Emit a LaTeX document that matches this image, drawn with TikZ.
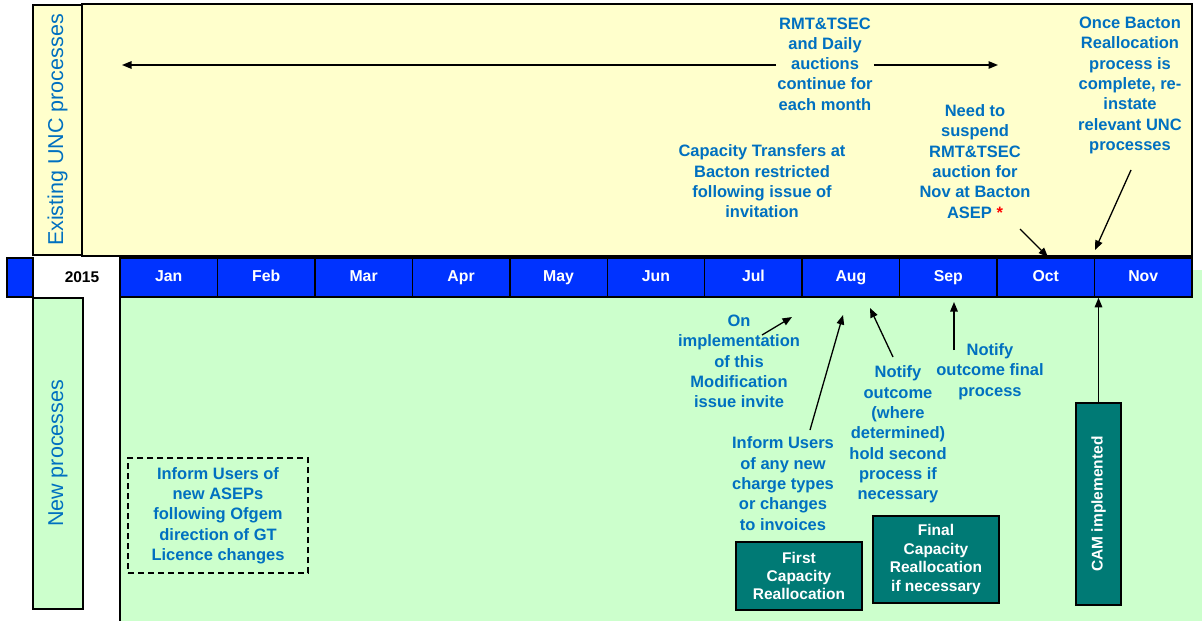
\documentclass[tikz,border=0pt]{standalone}
\usepackage{fontspec}
\setmainfont{Liberation Sans}
\usetikzlibrary{arrows.meta}
\definecolor{txtblue}{RGB}{0,112,192}
\definecolor{ylw}{RGB}{255,255,204}
\definecolor{grn}{RGB}{204,255,204}
\definecolor{tlblue}{RGB}{0,51,255}
\definecolor{tealbg}{RGB}{0,122,117}
\begin{document}
\begin{tikzpicture}[x=1pt,y=-1pt,
 ann/.style={text=txtblue, font=\bfseries\fontsize{16.5}{20.3}\selectfont, align=center, inner sep=1pt},
 month/.style={draw=black, line width=1.5pt, fill=tlblue, text=white, font=\bfseries\fontsize{15.8}{18}\selectfont, minimum width=97.45pt, minimum height=39pt, inner sep=0pt, text height=11.5pt, text depth=3.5pt},
 tealbox/.style={draw=black, line width=1.5pt, fill=tealbg, text=white, font=\bfseries\fontsize{15.5}{18.4}\selectfont, align=center, inner sep=0pt},
 arr/.style={line width=1.3pt, -{Triangle[length=9.5pt,width=7.5pt]}},
 lbl/.style={text=txtblue, font=\fontsize{21.5}{24}\selectfont, rotate=90},
 framebox/.style={draw=black, line width=1.2pt}
]
\useasboundingbox (0,0) rectangle (1202,621);
% backgrounds
\fill[grn] (120,270) rectangle (1202,621);
\draw[line width=1.2pt] (120,297) -- (120,621);
\draw[framebox, fill=ylw] (82,4) rectangle (1192,256);
\node[framebox, fill=ylw, minimum width=49pt, minimum height=250pt, inner sep=0pt] (exlbl) at (57.5,130) {};
\node[lbl] (extext) at (exlbl.center) {Existing UNC processes};
\node[framebox, fill=grn, minimum width=50pt, minimum height=311pt, inner sep=0pt] (nwlbl) at (58,453.5) {};
\node[lbl] (nwtext) at (nwlbl.center) {New processes};
% timeline
\node[framebox, fill=tlblue, minimum width=26pt, minimum height=39pt, inner sep=0pt] (lblue) at (20,277.5) {};
\node[font=\bfseries\fontsize{15.5}{18}\selectfont] (yr) at (82,277.5) {2015};
\foreach \m [count=\i from 0] in {Jan,Feb,Mar,Apr,May,Jun,Jul,Aug,Sep,Oct,Nov}
  \node[month] (\m) at ({120+97.45*(\i+0.5)},277.5) {\m};
% top annotations
\node[ann, fill=ylw] (rmt) at (825,64) {RMT\&TSEC\\and Daily\\auctions\\continue for\\each month};
\coordinate (aL) at (122,65);
\coordinate (aR) at (998,65);
\draw[arr] (rmt.west |- aL) -- (aL);
\draw[arr] (rmt.east |- aR) -- (aR);
\node[ann] (capt) at (762,181.5) {Capacity Transfers at\\Bacton restricted\\following  issue of\\invitation};
\node[ann] (susp) at (975,161.5) {Need to\\suspend\\RMT\&TSEC\\auction for\\Nov at Bacton\\ASEP \textcolor{red}{*}};
\node[ann] (once) at (1130,85.5) {Once Bacton\\Reallocation\\process is\\complete, re-\\instate\\relevant UNC\\processes};
\coordinate (octS) at (1020,229);
\coordinate (octE) at (1048,257);
\draw[arr] (octS) -- (octE);
\coordinate (novS) at (1131,170);
\coordinate (novE) at (1095,250);
\draw[arr] (novS) -- (novE);
% bottom annotations
\node[ann] (impl) at (739,361.5) {On\\implementation\\of this\\Modification\\issue invite};
\coordinate (implS) at (762,335);
\coordinate (implE) at (792,317);
\draw[arr] (implS) -- (implE);
\node[ann] (inform) at (783,483.5) {Inform Users\\of any new\\charge types\\or changes\\to invoices};
\coordinate (infS) at (810,430);
\coordinate (infE) at (843,315);
\draw[arr] (infS) -- (infE);
\node[ann] (notif) at (898,434.5) {Notify\\outcome\\(where\\determined)\\hold second\\process if\\necessary};
\coordinate (notS) at (893,357);
\coordinate (notE) at (870,308);
\draw[arr] (notS) -- (notE);
\node[ann] (final) at (990,371.5) {Notify\\outcome final\\process};
\coordinate (finS) at (954,350);
\coordinate (finE) at (954,302);
\draw[arr] (finS) -- (finE);
\node[ann, draw=black, dash pattern=on 6pt off 4pt, line width=1.2pt, minimum width=180pt, minimum height=115pt] (asep) at (218,515.5) {Inform Users of\\new ASEPs\\following  Ofgem\\direction of GT\\Licence changes};
% teal boxes
\node[tealbox, minimum width=126pt, minimum height=68pt] (first) at (799,576) {First\\Capacity\\Reallocation};
\node[tealbox, minimum width=126pt, minimum height=87pt] (finalbox) at (936,559.5) {Final\\Capacity\\Reallocation\\if necessary};
\node[tealbox, minimum width=45pt, minimum height=202pt] (cam) at (1098.5,504) {};
\node[text=white, font=\bfseries\fontsize{15.5}{18}\selectfont, rotate=90] (camtext) at (cam.center) {CAM implemented};
\draw[arr] (cam.north) -- (cam.north |- Nov.south);
\end{tikzpicture}
\end{document}
